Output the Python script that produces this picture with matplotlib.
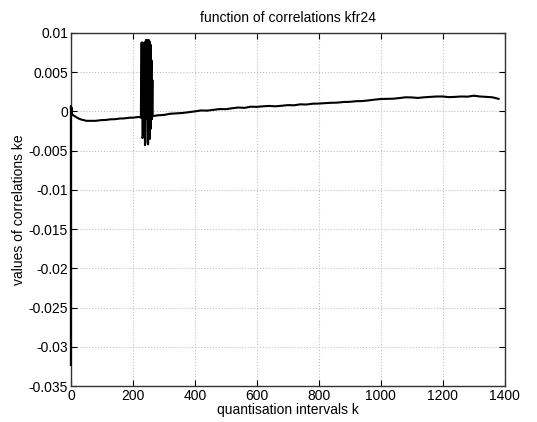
import matplotlib
matplotlib.use("Agg")
import matplotlib.pyplot as plt
from matplotlib.ticker import FuncFormatter

plt.rcParams['font.family'] = ['Liberation Sans', 'DejaVu Sans']

# start of the curve (k = 0 .. 220)
k_start = [0, 0, 1, 2, 3, 5, 8, 12, 20, 30, 40, 50, 60, 70, 80, 90, 100, 110, 120,
           130, 140, 150, 160, 170, 180, 190, 200, 210, 220, 226]
ke_start = [-0.0323, 0.0007, -0.0005, 0.0005, -0.0002, -0.0004, -0.0005, -0.0006,
            -0.0008, -0.0010, -0.0011, -0.0012, -0.0012, -0.0012, -0.0012, -0.00115,
            -0.0011, -0.0011, -0.00105, -0.0010, -0.0010, -0.00095, -0.0009, -0.0009,
            -0.00085, -0.0008, -0.0008, -0.00075, -0.0007, -0.0008]

# burst of oscillations around k = 227 .. 265
k_burst = [227, 230, 231, 234, 236, 238, 239, 241, 242, 245, 246, 248, 249, 251,
           252, 254, 255, 257, 258, 260, 261, 263]
ke_burst = [0.0087, 0.0088, -0.0034, -0.0031, 0.0086, 0.0088, -0.0043, -0.0040,
            0.0091, 0.0091, -0.0010, 0.0090, -0.0042, 0.0091, -0.0020, 0.0089,
            -0.0035, 0.0085, -0.0022, 0.0065, -0.0010, 0.0040]

# slow drift afterwards
k_tail = [264, 280, 300, 320, 340, 360, 380, 400, 420, 440, 460, 480, 500, 520,
          540, 560, 580, 600, 620, 640, 660, 680, 700, 720, 740, 760, 780, 800,
          820, 840, 860, 880, 900, 920, 940, 960, 980, 1000, 1020, 1040, 1060,
          1080, 1100, 1120, 1140, 1160, 1180, 1200, 1220, 1240, 1260, 1280, 1300,
          1320, 1340, 1360, 1380]
ke_tail = [-0.0006, -0.0005, -0.00045, -0.0003, -0.00025, -0.0002, -0.0001, 0.0,
           0.00012, 0.0001, 0.0002, 0.0003, 0.00028, 0.0004, 0.0005, 0.00045,
           0.0006, 0.00058, 0.00065, 0.0007, 0.00065, 0.00072, 0.0008, 0.00078,
           0.0009, 0.00088, 0.00098, 0.001, 0.00105, 0.0011, 0.00112, 0.0012,
           0.00122, 0.0013, 0.00132, 0.0014, 0.0015, 0.00158, 0.0016, 0.00162,
           0.0017, 0.0018, 0.00178, 0.00172, 0.0018, 0.00185, 0.0019, 0.0019,
           0.00182, 0.00185, 0.0019, 0.00188, 0.002, 0.0019, 0.00185, 0.0018,
           0.0016]

k = k_start + k_burst + k_tail
ke = ke_start + ke_burst + ke_tail

xticks = [0, 200, 400, 600, 800, 1000, 1200, 1400]
yticks = [0.01, 0.005, 0, -0.005, -0.01, -0.015, -0.02, -0.025, -0.03, -0.035]

fig = plt.figure(figsize=(5.37, 4.22), dpi=100)
ax = fig.add_axes([0.132, 0.085, 0.808, 0.837])
ax.plot(k, ke, color='black', linewidth=1.5, clip_on=False, zorder=5)

ax.set_xlim(0, 1400)
ax.set_ylim(-0.035, 0.01)
ax.set_xticks(xticks)
ax.set_yticks(yticks)
ax.yaxis.set_major_formatter(FuncFormatter(lambda v, p: '%g' % v))
ax.tick_params(direction='in', top=True, right=True, labelsize=10, length=4, pad=2)
ax.grid(True, linestyle=':', color='#c0c0c0', linewidth=0.8)
for s in ax.spines.values():
    s.set_linewidth(1.0)
    s.set_color('#333333')

ax.set_title('function of correlations kfr24', fontsize=10, pad=8)
ax.set_xlabel('quantisation intervals k', fontsize=10, labelpad=0)
ax.set_ylabel('values of correlations ke', fontsize=10, labelpad=2)

fig.savefig('out.png', dpi=100)
